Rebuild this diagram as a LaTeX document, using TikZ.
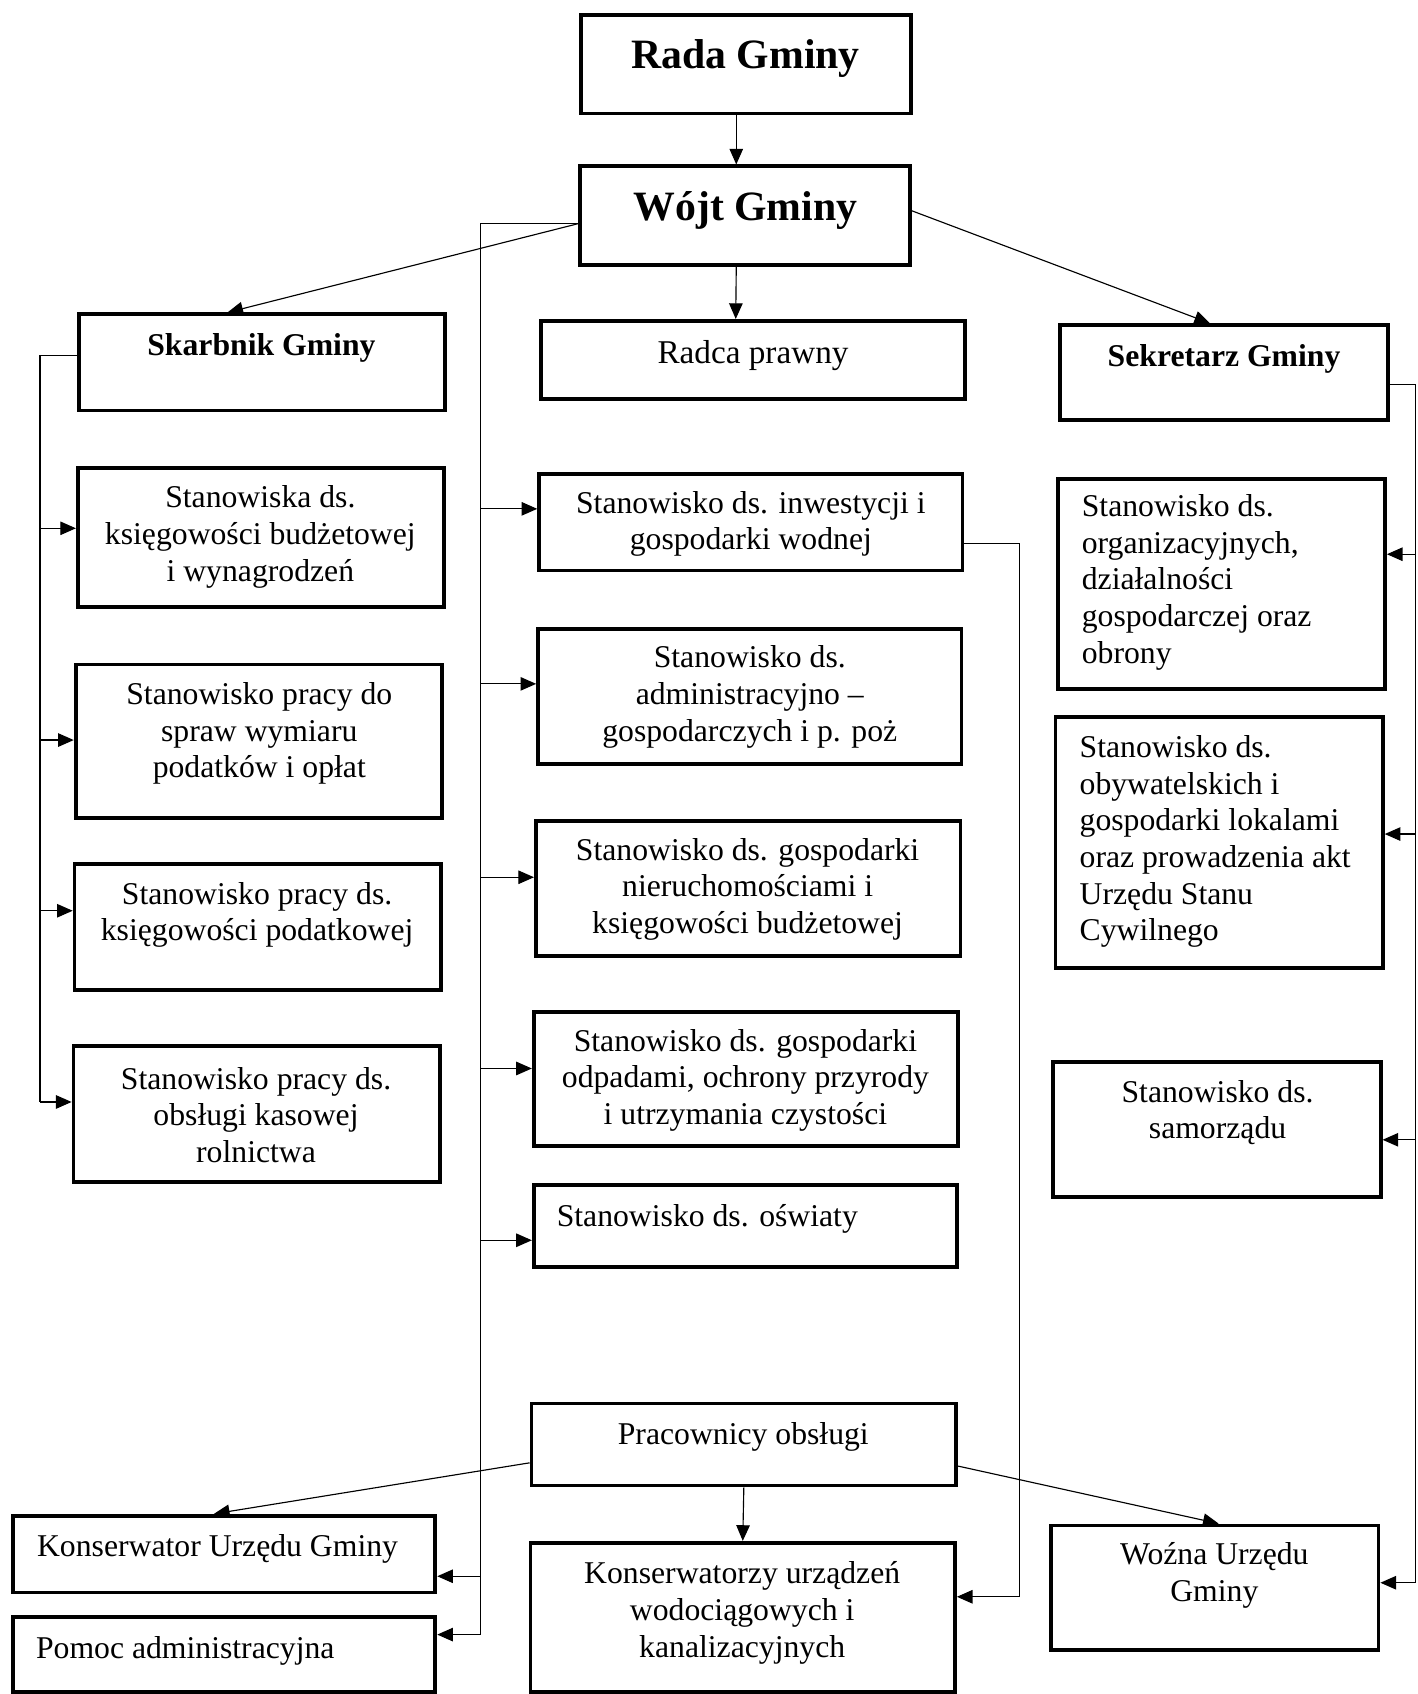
\documentclass[tikz,border=0pt]{standalone}
\usepackage{fontspec}
\setmainfont{Liberation Serif}
\usetikzlibrary{calc,arrows.meta}
\begin{document}
\begin{tikzpicture}[x=0.02cm,y=-0.02cm,
 box/.style={draw, line width=2pt, inner sep=0pt},
 txt/.style={inner sep=0pt, font=\fontsize{16.7pt}{19.3pt}\selectfont, align=center},
 txtl/.style={inner sep=0pt, font=\fontsize{16.7pt}{19.3pt}\selectfont, align=left, anchor=west},
 ttl/.style={inner sep=0pt, font=\fontsize{22pt}{26pt}\selectfont\bfseries},
 hd/.style={inner sep=0pt, font=\fontsize{16.7pt}{19.3pt}\selectfont\bfseries},
 conn/.style={line width=0.6pt},
 arr/.style={conn, -{Triangle[length=0.29cm,width=0.25cm]}}]
\fill[white] (0,0) rectangle (1312,1568);
\useasboundingbox (0,0) rectangle (1312,1568);

% boxes
\node[box, minimum width=6.10cm, minimum height=1.82cm] (rada) at (690.5,59.5) {};
\node[box, minimum width=6.10cm, minimum height=1.82cm] (wojt) at (689.5,199.5) {};
\node[box, minimum width=6.78cm, minimum height=1.78cm] (skarb) at (242.5,335.5) {};
\node[box, minimum width=7.84cm, minimum height=1.44cm] (radca) at (697,333) {};
\node[box, minimum width=6.08cm, minimum height=1.76cm] (sekr) at (1133,345) {};
\node[box, minimum width=6.78cm, minimum height=2.58cm] (L1) at (241.5,497.5) {};
\node[box, minimum width=6.78cm, minimum height=2.84cm] (L2) at (239.5,686) {};
\node[box, minimum width=6.78cm, minimum height=2.32cm] (L3) at (238.5,858) {};
\node[box, minimum width=6.78cm, minimum height=2.52cm] (L4) at (237.5,1031) {};
\node[box, minimum width=7.84cm, minimum height=1.78cm] (M1) at (695,483.5) {};
\node[box, minimum width=7.84cm, minimum height=2.50cm] (M2) at (694,644.5) {};
\node[box, minimum width=7.86cm, minimum height=2.50cm] (M3) at (692.5,822.5) {};
\node[box, minimum width=7.86cm, minimum height=2.48cm] (M4) at (690.5,999) {};
\node[box, minimum width=7.84cm, minimum height=1.52cm] (M5) at (690,1135) {};
\node[box, minimum width=7.86cm, minimum height=1.52cm] (prac) at (688.5,1337) {};
\node[box, minimum width=7.82cm, minimum height=1.42cm] (kons) at (207.5,1438.5) {};
\node[box, minimum width=7.82cm, minimum height=1.38cm] (pomoc) at (207.5,1531.5) {};
\node[box, minimum width=7.86cm, minimum height=2.76cm] (konsw) at (687.5,1497) {};
\node[box, minimum width=6.06cm, minimum height=2.30cm] (wozna) at (1124.5,1469.5) {};
\node[box, minimum width=6.06cm, minimum height=3.90cm] (R1) at (1130.5,540.5) {};
\node[box, minimum width=6.06cm, minimum height=4.64cm] (R2) at (1128.5,780) {};
\node[box, minimum width=6.06cm, minimum height=2.50cm] (R3) at (1126.5,1045.5) {};

% texts
\node[ttl] (radat) at (690,54) {Rada Gminy};
\node[ttl] (wojtt) at (690,195) {Wójt Gminy};
\node[hd] (skarbt) at (242,322) {Skarbnik Gminy};
\node[txt, font=\fontsize{17.5pt}{20pt}\selectfont] (radcat) at (697,329) {Radca prawny};
\node[hd] (sekrt) at (1133,332) {Sekretarz Gminy};
\node[txt] (L1t) at (241,497) {Stanowiska ds.\\ księgowości budżetowej\\ i wynagrodzeń};
\node[txt] (L2t) at (240,679) {Stanowisko pracy do\\ spraw wymiaru\\ podatków i opłat};
\node[txt] (L3t) at (238,847) {Stanowisko pracy ds.\\ księgowości podatkowej};
\node[txt] (L4t) at (237,1032) {Stanowisko pracy ds.\\ obsługi kasowej\\ rolnictwa};
\node[txt] (M1t) at (695,485) {Stanowisko ds. inwestycji i\\ gospodarki wodnej};
\node[txt] (M2t) at (694,645) {Stanowisko ds.\\ administracyjno –\\ gospodarczych i p. poż};
\node[txt] (M3t) at (692,823) {Stanowisko ds. gospodarki\\ nieruchomościami i\\ księgowości budżetowej};
\node[txt] (M4t) at (690,1000) {Stanowisko ds. gospodarki\\ odpadami, ochrony przyrody\\ i utrzymania czystości};
\node[txtl] (M5t) at (515,1128) {Stanowisko ds. oświaty};
\node[txt] (pract) at (688,1330) {Pracownicy obsługi};
\node[txtl] (konst) at (34,1434) {Konserwator Urzędu Gminy};
\node[txtl] (pomoct) at (33,1528) {Pomoc administracyjna};
\node[txt] (konswt) at (687,1493) {Konserwatorzy urządzeń\\ wodociągowych i\\ kanalizacyjnych};
\node[txt] (woznat) at (1124,1458) {Woźna Urzędu\\ Gminy};
\node[txtl] (R1t) at (1001,539) {Stanowisko ds.\\ organizacyjnych,\\ działalności\\ gospodarczej oraz\\ obrony};
\node[txtl] (R2t) at (999,779) {Stanowisko ds.\\ obywatelskich i\\ gospodarki lokalami\\ oraz prowadzenia akt\\ Urzędu Stanu\\ Cywilnego};
\node[txt] (R3t) at (1127,1030) {Stanowisko ds.\\ samorządu};

% top connectors
\draw[arr] ($(rada.south)+(-9,0)$) -- ($(wojt.north)+(-8,0)$);
\draw[arr] ($(wojt.south)+(-8,0)$) -- ($(radca.north)+(-16,0)$);
\coordinate (wL) at ($(wojt.west)+(0,7.5)$);
\draw[arr] (wL) -- ($(skarb.north)+(-32,0)$);
\draw[arr] ($(wojt.east)+(0,-4.5)$) -- ($(sekr.north)+(-13,0)$);

% Wojt spine
\coordinate (ms) at (445,1513);
\coordinate (aM1) at ($(M1.west)+(0,-12.5)$);
\coordinate (aM2) at ($(M2.west)+(0,-11.5)$);
\coordinate (aM3) at ($(M3.west)+(0,-10.5)$);
\coordinate (aM4) at ($(M4.west)+(0,-10)$);
\coordinate (aM5) at ($(M5.west)+(0,13)$);
\coordinate (aK) at ($(kons.east)+(0,20.5)$);
\coordinate (aP) at ($(pomoc.east)+(0,-18.5)$);
\draw[conn] (wL) -| (ms);
\draw[arr] (ms |- aP) -- (aP);
\draw[arr] (ms |- aK) -- (aK);
\draw[arr] (ms |- aM1) -- (aM1);
\draw[arr] (ms |- aM2) -- (aM2);
\draw[arr] (ms |- aM3) -- (aM3);
\draw[arr] (ms |- aM4) -- (aM4);
\draw[arr] (ms |- aM5) -- (aM5);

% Skarbnik spine
\coordinate (ls) at (37,1020);
\coordinate (aL1) at ($(L1.west)+(0,-8.5)$);
\coordinate (aL2) at ($(L2.west)+(0,-1)$);
\coordinate (aL3) at ($(L3.west)+(0,-15)$);
\coordinate (aL4) at ($(L4.west)+(0,-11)$);
\draw[conn] ($(skarb.west)+(0,-6.5)$) -| (ls);
\draw[arr] (ls |- aL1) -- (aL1);
\draw[arr] (ls |- aL2) -- (aL2);
\draw[arr] (ls |- aL3) -- (aL3);
\draw[arr] (ls |- aL4) -- (aL4);

% Sekretarz spine
\coordinate (rs) at (1310,1465);
\coordinate (aR1) at ($(R1.east)+(0,-27.5)$);
\coordinate (aR2) at ($(R2.east)+(0,-8)$);
\coordinate (aR3) at ($(R3.east)+(0,9.5)$);
\coordinate (aW) at ($(wozna.east)+(0,-4.5)$);
\draw[conn] ($(sekr.east)+(0,11)$) -| (rs);
\draw[arr] (rs |- aR1) -- (aR1);
\draw[arr] (rs |- aR2) -- (aR2);
\draw[arr] (rs |- aR3) -- (aR3);
\draw[arr] (rs |- aW) -- (aW);

% M1 to Konserwatorzy
\coordinate (ws) at (944,1478);
\draw[conn] ($(M1.east)+(0,19.5)$) -| (ws);
\draw[arr] (ws) -- (ws -| konsw.east);

% Pracownicy obslugi
\draw[arr] ($(prac.west)+(0,17)$) -- ($(kons.north)+(-9.5,0)$);
\draw[arr] (prac.south) -- (konsw.north);
\draw[arr] ($(prac.east)+(0,20)$) -- ($(wozna.north)+(3.5,0)$);
\end{tikzpicture}
\end{document}
